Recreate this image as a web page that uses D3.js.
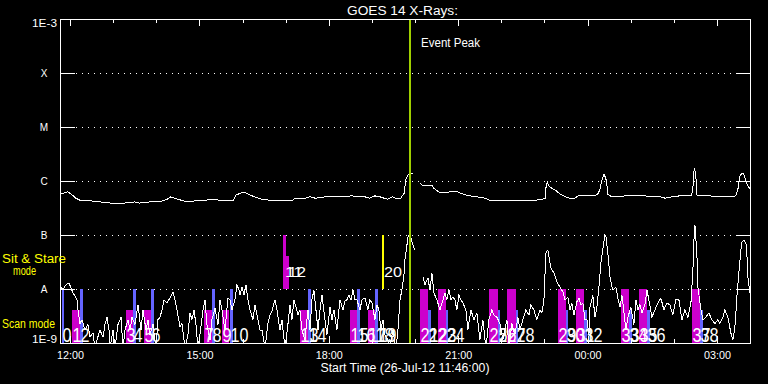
<!DOCTYPE html>
<html><head><meta charset="utf-8">
<script src="https://cdn.jsdelivr.net/npm/d3@7"></script>
<style>
html,body{margin:0;padding:0;background:#000;}
svg{display:block;}
text{font-family:"Liberation Sans",Arial,sans-serif;fill:#fff;}
</style></head><body>
<svg id="c" width="768" height="384"></svg>
<script>
// ---------------- DATA ----------------
const chartTitle = "GOES 14 X-Rays:";
const startLabel = "Start Time (26-Jul-12 11:46:00)";
const startUTC = Date.UTC(2012, 6, 26, 11, 46);   // 26-Jul-12 11:46:00
const spanMinutes = 960;                           // 16 hours shown
const decadeTicks = [1e-9, 1e-8, 1e-7, 1e-6, 1e-5, 1e-4, 1e-3];
const classLevels = [1e-8, 1e-7, 1e-6, 1e-5, 1e-4];
const classNames  = ["A", "B", "C", "M", "X"];
const edgeLabels  = ["1E-9", "1E-3"];
const modeLabels  = ["Sit & Stare", "mode", "Scan mode"];
const eventLabel  = "Event Peak";
const eventPeakMin = 487;                          // minutes after start

// GOES long channel (1-8 A): [minutes after start, flux in 1e-9 W/m^2]
const longPts = [[0,570],[5.6,600],[11,630],[17,550],[22,480],[28,440],[42,430],[56,410],[70,390],[90,390],
[104,410],[111,390],[125,410],[139,410],[149,460],[154,510],[160,480],[171,430],[181,410],[191,440],
[202,440],[211,460],[223,440],[241,440],[245,550],[252,600],[259,600],[264,550],[271,510],[281,460],
[292,440],[306,440],[324,440],[327,480],[341,480],[348,510],[355,480],[369,510],[390,510],[406,530],
[415,510],[424,510],[431,480],[438,530],[445,510],[451,480],[456,460],[462,510],[467,480],[474,480],
[479,600],[481,1040],[484,1290],[487,1350],[491,1350],[494,null],[501,920],[505,810],[512,810],[517,840],
[520,740],[529,600],[538,600],[545,650],[551,650],[556,600],[565,550],[570,530],[580,510],[591,480],
[598,440],[612,430],[626,430],[640,430],[647,440],[661,440],[671,460],[675,480],[676,740],[678,960],
[680,810],[684,740],[689,680],[696,570],[703,510],[709,480],[716,480],[721,530],[729,550],[737,550],
[744,530],[748,570],[751,680],[754,1040],[757,1350],[760,1040],[761,810],[762,570],[765,530],[772,510],
[786,530],[800,530],[814,530],[828,510],[835,510],[842,480],[851,510],[862,530],[874,530],[879,550],
[881,840],[882,1500],[883,1740],[885,1040],[886,550],[890,530],[904,530],[918,510],[932,510],[940,530],
[943,680],[946,1230],[949,1410],[951,1350],[954,1040],[957,810],[960,710]];

// GOES short channel (0.5-4 A): [minutes after start, flux in 1e-9 W/m^2]
const shortPts = [[1.4,10.9],[4.2,9.6],[7,11.4],[9.7,12.4],[12.5,12.9],[15.3,10.5],[18.1,8.4],[20.9,7.4],[23.6,6.3],[25,4.1],
[27.8,2.3],[30.6,2.7],[34.8,1.74],[38.9,2.2],[41.7,1.29],[45.9,1.53],[48.7,0.8],[51.5,1.14],[55.6,1.74],[59.8,1.29],
[62.6,2.2],[65.4,3.0],[68.2,1.74],[69.5,0.8],[73.7,1.74],[76.5,0.8],[80.7,2.2],[84.9,3.0],[87.6,0.8],[90.4,1.74],
[94.6,2.7],[97.4,1.74],[100.2,3.0],[104.3,2.2],[108.5,5.1],[112.7,1.74],[115.5,4.1],[119.6,1.74],[122.4,2.7],[125.2,1.41],
[129.4,2.2],[133.5,0.8],[136.3,2.7],[139.1,3.0],[141.9,4.1],[144.7,6.3],[148.8,5.5],[153,6.8],[157.2,8.8],[160,6.3],
[162.8,4.1],[166.9,2.0],[169.7,2.3],[173.9,0.8],[178,1.41],[180.8,3.6],[183.6,2.7],[186.4,4.1],[189.2,2.2],[192,0.8],
[194.7,1.41],[198.9,4.1],[201.7,6.3],[204.5,2.2],[208.7,1.14],[211.4,2.7],[215.6,4.4],[219.8,2.2],[222.6,6.3],[225.3,4.1],
[229.5,1.74],[233.7,6.8],[236.5,6.3],[239.3,4.1],[243.4,6.3],[246.2,11.9],[249,9.6],[250.4,7.7],[253.2,10.9],[256,7.7],
[258.7,11.9],[261.5,6.3],[264.3,4.1],[268.5,2.7],[271.3,5.1],[274,3.3],[278.2,1.74],[281,1.74],[285.2,0.8],[289.3,2.3],
[292.1,3.3],[294.9,3.9],[299.1,6.3],[301.9,4.1],[306,1.74],[308.8,2.7],[313,0.8],[317.1,2.2],[319.9,5.1],[322.7,2.7],
[325.5,6.3],[328.3,4.6],[331.1,3.3],[333.8,4.1],[336.6,1.74],[340.8,1.14],[345,4.1],[347.8,1.74],[350.5,6.3],[353.3,9.6],
[356.1,4.1],[358.9,1.74],[361.7,4.1],[364.5,7.7],[368.6,2.7],[371.4,1.41],[375.6,4.6],[378.4,2.7],[381.1,4.1],[385.3,1.74],
[389.5,6.3],[393.7,4.1],[396.4,6.0],[399.2,6.3],[402,7.7],[404.8,6.3],[407.6,9.6],[410.3,6.3],[413.1,6.3],[417.3,4.1],
[420.1,6.3],[424.3,6.8],[428.4,4.1],[431.2,6.3],[434,5.5],[438.2,2.7],[441,5.1],[443.7,4.1],[446.5,1.74],[449.3,2.7],
[452.1,1.41],[456.2,1.14],[459,0.8],[463.2,1.74],[467.4,0.8],[470.2,1.74],[473,6.3],[475.7,9.6],[478.5,18.2],[479.9,34.4],
[482.7,65],[484.1,92],[485.5,100],[488.2,88],[491,65],[493.8,53],[497,null],[504.9,16.7],[507.7,11.9],[511.9,16.0],
[514.7,9.6],[517.5,19.8],[520.2,8.4],[524.4,6.3],[528.6,4.1],[532.8,6.3],[535.5,8.4],[538.3,6.3],[541.1,9.6],[543.9,6.3],
[546.7,7.1],[549.4,6.3],[552.2,4.1],[555,7.7],[557.8,6.3],[560.6,5.5],[564.7,4.1],[567.5,1.74],[571.7,4.1],[575.9,2.7],
[580,3.6],[584.2,1.14],[588.4,2.7],[592.6,0.8],[596.7,2.7],[600.9,4.1],[603.7,3.3],[607.9,3.0],[612,2.3],[616.2,1.14],
[619,1.74],[621.8,2.7],[624.6,0.8],[628.7,2.3],[632.9,1.41],[637.1,3.0],[639.9,1.74],[644,2.7],[648.2,4.1],[652.4,3.3],
[655.2,5.1],[659.3,4.1],[663.5,2.7],[667.7,4.1],[670.5,3.6],[673.3,6.3],[676,46],[678.8,53],[680.2,41],[683,24.5],
[687.2,19.8],[691.3,13.5],[695.5,10.9],[699.7,8.8],[702.5,6.3],[706.7,7.1],[709.4,4.1],[712.2,5.5],[715,3.3],[719.2,5.8],
[722,6.8],[724.7,5.1],[727.5,5.5],[730.3,2.7],[733.1,2.7],[735.9,1.41],[737.3,4.6],[741.4,7.7],[744.2,3.0],[747,4.6],
[749.8,10.9],[752.6,30.4],[755.4,57],[758.1,100],[759.5,96],[762.3,46],[765.1,16.7],[767.9,10.9],[769.3,9.6],[773.4,10.9],
[776.2,6.8],[779,4.6],[781.8,7.7],[783.2,5.5],[787.4,1.74],[790.1,3.0],[794.3,4.6],[798.5,2.2],[801.3,6.3],[804.1,4.1],
[806.8,5.1],[809.6,3.6],[813.8,5.1],[816.6,9.6],[819.3,6.3],[823.5,3.0],[827.7,4.1],[831.9,5.5],[836,6.8],[840.2,4.1],
[844.4,5.5],[848.6,5.1],[852.7,3.3],[856.9,6.3],[861.1,6.3],[865.3,2.7],[869.4,4.1],[873.6,3.0],[877.8,5.5],[880.6,22.5],
[882,81],[883.4,153],[886.1,46],[887.5,10.9],[891.7,4.1],[894.5,2.7],[898.6,3.0],[902.8,3.6],[907,2.7],[911.2,2.3],
[915.3,2.7],[918.1,2.3],[922.3,3.0],[925.1,4.1],[929.2,3.0],[933.4,1.53],[936.2,1.14],[939,2.0],[940.4,3.6],[941.7,7.1],
[944.5,19.8],[947.3,53],[948.7,74],[951.5,81],[954.3,71],[955.6,46],[957,16.7],[959.8,8.4]];

// Observations (numbered 0..38): start/end minutes after start, kind, mode, top flux
const obsStart = [2.4,17.1,27.8,91.8,102.0,116.8,127.0,200.3,211.4,225.3,236.5,310.6,314.4,333.8,345.0,403.4,413.6,428.9,438.2,442.8,
447.8,500.8,512.3,526.2,536.5,597.2,608.8,622.2,633.9,692.3,703.5,717.8,728.9,780.4,791.5,805.4,816.6,878.7,890.2];
const obsEnd   = [6.0,27.4,31.6,102.0,105.3,127.0,130.3,211.4,215.2,235.5,240.2,314.4,318.5,345.0,348.7,413.6,417.3,438.2,442.8,442.8,
450.6,512.3,516.1,536.5,539.3,608.8,612.0,633.9,637.1,703.5,707.1,728.9,732.7,791.5,795.3,816.6,820.8,890.2,894.0];
const obsKind  = ["b","m","b","m","b","m","b","m","b","m","b","m","m","m","b","m","b","m","b","b",
"y","m","b","m","b","m","b","m","b","m","b","m","b","m","b","m","b","m","b"];
const obsMode  = ["scan","scan","scan","scan","scan","scan","scan","scan","scan","scan","scan","sit","sit","scan","scan","scan","scan","scan","scan","scan",
"sit","scan","scan","scan","scan","scan","scan","scan","scan","scan","scan","scan","scan","scan","scan","scan","scan","scan","scan"];
const obsTop   = [1e-8,4.1e-9,1e-8,4.1e-9,1e-8,4.1e-9,1e-8,4.1e-9,1e-8,4.1e-9,1e-8,1e-7,4.1e-8,4.1e-9,1e-8,4.1e-9,1e-8,4.1e-9,1e-8,1e-8,
1e-7,1e-8,4.1e-9,1e-8,4.1e-9,1e-8,4.1e-9,1e-8,4.1e-9,1e-8,4.1e-9,1e-8,4.1e-9,1e-8,4.1e-9,1e-8,4.1e-9,1e-8,4.1e-9];
const modeFloor = {scan: 1e-9, sit: 1e-8};

// ---------------- STYLE / LAYOUT ----------------
const kindColor = {m: "#cc00cc", b: "#6464ff", y: "#ffff00"};
const W = 768, H = 384, L = 60, R = 750, T = 19, B = 343;

const svg = d3.select("#c");
svg.append("rect").attr("width", W).attr("height", H).attr("fill", "#000");

const tm = m => new Date(startUTC + m * 60000);
const x = d3.scaleUtc().domain([tm(0), tm(spanMinutes)]).range([L, R]);
const y = d3.scaleLog().domain([1e-9, 1e-3]).range([B, T]);

svg.append("defs").append("clipPath").attr("id", "plot")
  .append("rect").attr("x", L).attr("y", T).attr("width", R - L).attr("height", B - T);

// dotted class gridlines
svg.append("g").selectAll("line").data(classLevels).join("line")
  .attr("x1", L + 16).attr("x2", R - 14)
  .attr("y1", d => Math.round(y(d)) + 0.5).attr("y2", d => Math.round(y(d)) + 0.5)
  .attr("stroke", "#fff").attr("stroke-dasharray", "1,5")
  .attr("shape-rendering", "crispEdges");

// observation bars
const idx = d3.range(obsStart.length);
const bx0 = i => Math.round(x(tm(obsStart[i])));
const bx1 = i => Math.round(x(tm(obsEnd[i])));
svg.append("g").attr("clip-path", "url(#plot)").selectAll("rect").data(idx).join("rect")
  .attr("x", bx0).attr("width", i => Math.max(0, bx1(i) - bx0(i)))
  .attr("y", i => Math.round(y(obsTop[i])))
  .attr("height", i => Math.round(y(modeFloor[obsMode[i]])) - Math.round(y(obsTop[i])))
  .attr("fill", i => kindColor[obsKind[i]])
  .attr("shape-rendering", "crispEdges");

// GOES curves
const line = d3.line()
  .defined(d => d[1] != null)
  .x(d => x(tm(d[0])))
  .y(d => y(d[1] * 1e-9));
const curves = svg.append("g").attr("clip-path", "url(#plot)");
[longPts, shortPts].forEach(s => {
  curves.append("path").datum(s).attr("d", line)
    .attr("fill", "none").attr("stroke", "#fff").attr("stroke-width", 1)
    .attr("shape-rendering", "crispEdges");
});

// observation number labels
svg.append("g").selectAll("text").data(idx).join("text")
  .attr("x", i => bx0(i) + (obsMode[i] === "sit" ? 2 : 0.5))
  .attr("y", i => obsMode[i] === "sit" ? 277 : 342)
  .attr("font-size", i => obsMode[i] === "sit" ? 14 : 21)
  .attr("textLength", i => 9 * String(i).length)
  .attr("lengthAdjust", "spacingAndGlyphs")
  .text(i => String(i));

// event peak line
svg.append("line")
  .attr("x1", Math.round(x(tm(eventPeakMin))) + 0).attr("x2", Math.round(x(tm(eventPeakMin))) + 0)
  .attr("y1", T).attr("y2", B).attr("stroke", "#9fd000").attr("stroke-width", 2)
  .attr("shape-rendering", "crispEdges");
svg.append("text").attr("x", 421).attr("y", 46.5).attr("font-size", 12)
  .attr("textLength", 59).attr("lengthAdjust", "spacingAndGlyphs").text(eventLabel);

// axes
function styleAxis(g) {
  g.selectAll("path,line").attr("stroke", "#fff").attr("shape-rendering", "crispEdges");
  g.attr("font-family", null).attr("font-size", null);
}
svg.append("g").attr("transform", `translate(0,${B})`)
  .call(d3.axisBottom(x).ticks(d3.utcHour.every(1)).tickSizeInner(-4).tickSizeOuter(0).tickFormat(""))
  .call(styleAxis);
const gb = svg.append("g").attr("transform", `translate(0,${B})`)
  .call(d3.axisBottom(x).ticks(d3.utcHour.every(3)).tickSizeInner(-7).tickSizeOuter(0).tickPadding(8)
        .tickFormat(d3.utcFormat("%H:%M")))
  .call(styleAxis);
gb.selectAll("text").attr("font-size", 11).attr("fill", "#fff")
  .attr("textLength", 27).attr("lengthAdjust", "spacingAndGlyphs");

svg.append("g").attr("transform", `translate(0,${T})`)
  .call(d3.axisTop(x).ticks(d3.utcHour.every(1)).tickSizeInner(-4).tickSizeOuter(0).tickFormat(""))
  .call(styleAxis);
svg.append("g").attr("transform", `translate(0,${T})`)
  .call(d3.axisTop(x).ticks(d3.utcHour.every(3)).tickSizeInner(-7).tickSizeOuter(0).tickFormat(""))
  .call(styleAxis);

svg.append("g").attr("transform", `translate(${L},0)`)
  .call(d3.axisLeft(y).tickValues(decadeTicks).tickSizeInner(-15).tickSizeOuter(0).tickFormat(""))
  .call(styleAxis);
svg.append("g").attr("transform", `translate(${R},0)`)
  .call(d3.axisRight(y).tickValues(decadeTicks).tickSizeInner(-14).tickSizeOuter(0).tickFormat(""))
  .call(styleAxis);

// y labels
svg.append("g").selectAll("text").data(classLevels).join("text")
  .attr("x", 44).attr("y", d => y(d) + 4).attr("text-anchor", "middle")
  .attr("font-size", 10).text((d, i) => classNames[i]);
svg.append("text").attr("x", 57).attr("y", 343).attr("text-anchor", "end").attr("font-size", 11)
  .attr("textLength", 25).attr("lengthAdjust", "spacingAndGlyphs").text(edgeLabels[0]);
svg.append("text").attr("x", 57).attr("y", 27).attr("text-anchor", "end").attr("font-size", 11)
  .attr("textLength", 25).attr("lengthAdjust", "spacingAndGlyphs").text(edgeLabels[1]);

// mode labels
const yl = svg.append("g").attr("fill", "#ffff00");
yl.append("text").attr("x", 2).attr("y", 263).attr("font-size", 12).style("fill", "#ffff00")
  .attr("textLength", 64).attr("lengthAdjust", "spacingAndGlyphs").text(modeLabels[0]);
yl.append("text").attr("x", 13).attr("y", 275).attr("font-size", 12).style("fill", "#ffff00")
  .attr("textLength", 23).attr("lengthAdjust", "spacingAndGlyphs").text(modeLabels[1]);
yl.append("text").attr("x", 2).attr("y", 328).attr("font-size", 12).style("fill", "#ffff00")
  .attr("textLength", 53).attr("lengthAdjust", "spacingAndGlyphs").text(modeLabels[2]);

// title and x title
svg.append("text").attr("x", 402.5).attr("y", 14.5).attr("text-anchor", "middle").attr("font-size", 12)
  .attr("textLength", 111).attr("lengthAdjust", "spacingAndGlyphs").text(chartTitle);
svg.append("text").attr("x", 405).attr("y", 372).attr("text-anchor", "middle").attr("font-size", 12)
  .attr("textLength", 169).attr("lengthAdjust", "spacingAndGlyphs").text(startLabel);
</script>
</body></html>
